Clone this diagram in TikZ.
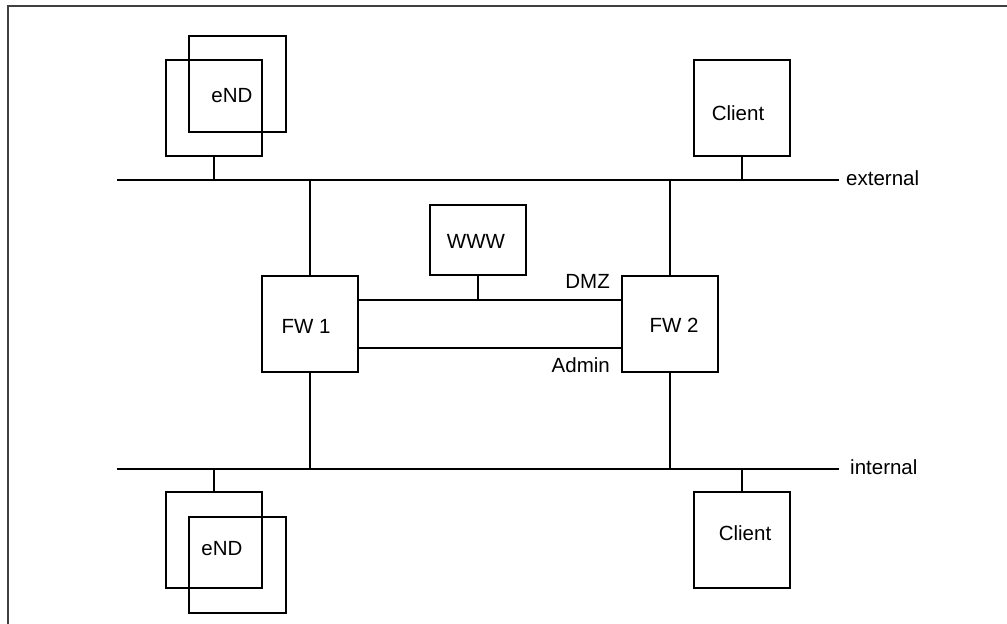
\documentclass[tikz,border=0pt]{standalone}
\usepackage{fontspec}
\setmainfont{Liberation Sans}
\begin{document}
\begin{tikzpicture}[x=1pt,y=-1pt,
  box/.style={draw,line width=1.8pt,minimum width=96pt,minimum height=96pt,inner sep=0pt,outer sep=0pt},
  lbl/.style={font=\fontsize{20.5}{24}\selectfont,inner sep=0pt},
  wire/.style={line width=1.8pt},
  frame/.style={line width=1.6pt,draw=black!75}]
\useasboundingbox (0,0) rectangle (1007,624);
\draw[frame] (8,624) -- (8,6) -- (1007,6);
% buses
\coordinate (extL) at (117,180);
\coordinate (extR) at (839,180);
\coordinate (intL) at (117,469);
\coordinate (intR) at (839,469);
\coordinate (dmz) at (0,300);
\coordinate (adm) at (0,348);
\draw[wire] (extL) -- (extR);
\draw[wire] (intL) -- (intR);
\node[lbl,anchor=west] (lext) at (846,178) {external};
\node[lbl,anchor=west] (lint) at (850,467) {internal};
% top eND
\node[box,minimum width=97pt] (endTb) at (237.5,84) {};
\node[box] (endTf) at (214,108) {};
\node[lbl] (endTt) at (232,96) {eND};
\draw[wire] (endTf.south) -- (endTf.south |- extL);
% top client
\node[box] (cliT) at (742,108) {};
\node[lbl] (cliTt) at (738,113) {Client};
\draw[wire] (cliT.south) -- (cliT.south |- extL);
% bottom eND
\node[box] (endBf) at (214,540) {};
\node[box,minimum width=97pt] (endBb) at (237.5,565) {};
\node[lbl] (endBt) at (222,549) {eND};
\draw[wire] (endBf.north) -- (endBf.north |- intL);
% bottom client
\node[box] (cliB) at (742,540) {};
\node[lbl] (cliBt) at (745,533) {Client};
\draw[wire] (cliB.north) -- (cliB.north |- intL);
% firewalls
\node[box] (fw1) at (310,324) {};
\node[lbl] (fw1t) at (306,326) {FW 1};
\node[box] (fw2) at (670,324) {};
\node[lbl] (fw2t) at (674,325) {FW 2};
\draw[wire] (fw1.north) -- (fw1.north |- extL);
\draw[wire] (fw1.south) -- (fw1.south |- intL);
\draw[wire] (fw2.north) -- (fw2.north |- extL);
\draw[wire] (fw2.south) -- (fw2.south |- intL);
% WWW
\node[box,minimum height=70pt] (www) at (478,240) {};
\node[lbl] (wwwt) at (476,241) {WWW};
\draw[wire] (fw1.east |- dmz) -- (fw2.west |- dmz);
\draw[wire] (fw1.east |- adm) -- (fw2.west |- adm);
\draw[wire] (www.south) -- (www.south |- dmz);
\node[lbl,anchor=east] (ldmz) at (610,281) {DMZ};
\node[lbl,anchor=east] (ladm) at (610,365) {Admin};
\end{tikzpicture}
\end{document}
